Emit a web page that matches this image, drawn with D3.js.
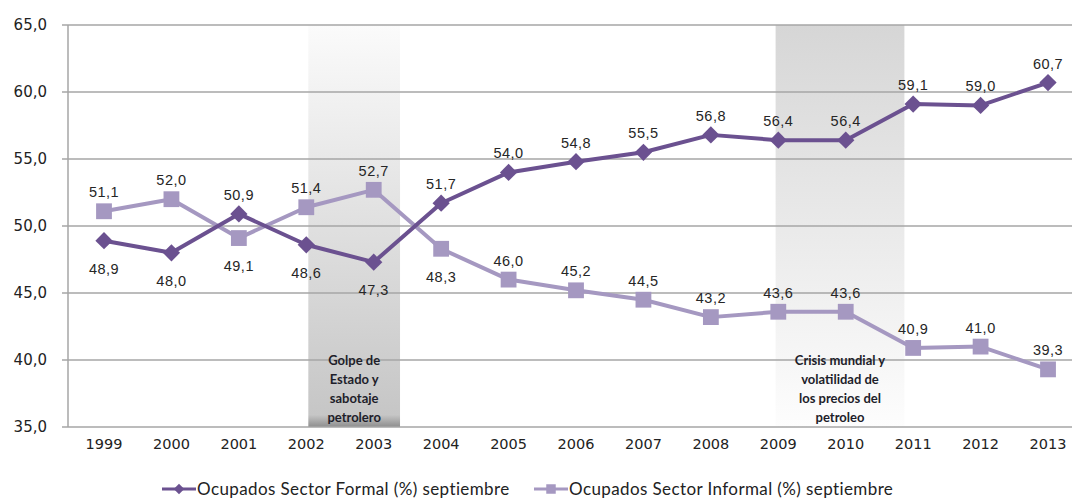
<!DOCTYPE html>
<html>
<head>
<meta charset="utf-8">
<script src="https://cdn.jsdelivr.net/npm/d3@7"></script>
<style>
  body { margin: 0; background: #fff; }
  svg { display: block; }
</style>
</head>
<body>
<div id="chart"></div>
<script>
var years = ['1999','2000','2001','2002','2003','2004','2005','2006','2007','2008','2009','2010','2011','2012','2013'];
var formal = [48.9, 48.0, 50.9, 48.6, 47.3, 51.7, 54.0, 54.8, 55.5, 56.8, 56.4, 56.4, 59.1, 59.0, 60.7];
var informal = [51.1, 52.0, 49.1, 51.4, 52.7, 48.3, 46.0, 45.2, 44.5, 43.2, 43.6, 43.6, 40.9, 41.0, 39.3];
// where each label sits: a = above, b = below
var formalPos = ['b','b','a','b','b','a','a','a','a','a','a','a','a','a','a'];
var informalPos = ['a','a','b','a','a','b','a','a','a','a','a','a','a','a','a'];
var yTicks = [35, 40, 45, 50, 55, 60, 65];
var seriesNames = ['Ocupados Sector Formal (%) septiembre', 'Ocupados Sector Informal (%) septiembre'];
// shaded periods, in year units
var periods = [
  {from: 2002.03, to: 2003.39, lines: ['Golpe de', 'Estado y', 'sabotaje', 'petrolero'], grad: 'g1'},
  {from: 2008.96, to: 2010.87, lines: ['Crisis mundial y', 'volatilidad de', 'los precios del', 'petroleo'], grad: 'g2'}
];

var width = 1072, height = 501;
var colFormal = '#6b5190', colInformal = '#a598c1';

var svg = d3.select('#chart').append('svg')
    .attr('width', width)
    .attr('height', height);

var defs = svg.append('defs');
var g1 = defs.append('linearGradient').attr('id', 'g1').attr('x1', 0).attr('y1', 0).attr('x2', 0).attr('y2', 1);
g1.append('stop').attr('offset', '0%').attr('stop-color', '#fbfbfb');
g1.append('stop').attr('offset', '97%').attr('stop-color', '#c6c6c6');
g1.append('stop').attr('offset', '100%').attr('stop-color', '#8e8e8e');
var g2 = defs.append('linearGradient').attr('id', 'g2').attr('x1', 0).attr('y1', 0).attr('x2', 0).attr('y2', 1);
g2.append('stop').attr('offset', '0%').attr('stop-color', '#d6d6d6');
g2.append('stop').attr('offset', '100%').attr('stop-color', '#fdfdfd');

var step = 67.43;
var x = d3.scalePoint().domain(years).range([104, 104 + step * 14]);
var xYear = d3.scaleLinear().domain([1999, 2013]).range([104, 104 + step * 14]);
var y = d3.scaleLinear().domain([35, 65]).range([427, 25]);

// shaded periods
var shades = svg.append('g');
shades.selectAll('rect')
    .data(periods)
    .enter()
    .append('rect')
    .attr('x', function(d) { return xYear(d.from); })
    .attr('width', function(d) { return xYear(d.to) - xYear(d.from); })
    .attr('y', y(65))
    .attr('height', y(35) - y(65))
    .attr('fill', function(d) { return 'url(#' + d.grad + ')'; });

// grid
svg.append('g')
    .selectAll('line')
    .data(yTicks)
    .enter()
    .append('line')
    .attr('x1', 62).attr('x2', width)
    .attr('y1', function(d) { return y(d); })
    .attr('y2', function(d) { return y(d); })
    .attr('stroke', '#a6a6a6')
    .attr('stroke-width', 1.5);
svg.append('line')
    .attr('x1', 68).attr('x2', 68)
    .attr('y1', y(65)).attr('y2', y(35))
    .attr('stroke', '#a6a6a6')
    .attr('stroke-width', 1.5);

// period notes
periods.forEach(function(p) {
    var cx = (xYear(p.from) + xYear(p.to)) / 2;
    svg.append('text')
        .attr('font-family', 'Lato, sans-serif')
        .attr('font-weight', 'bold')
        .attr('font-size', 13)
        .attr('fill', '#1e1e2a')
        .attr('text-anchor', 'middle')
        .selectAll('tspan')
        .data(p.lines)
        .enter()
        .append('tspan')
        .attr('x', cx)
        .attr('y', function(d, i) { return 365 + i * 19; })
        .text(function(d) { return d; });
});

// axis labels
svg.append('g')
    .selectAll('text')
    .data(yTicks)
    .enter()
    .append('text')
    .attr('x', 47)
    .attr('y', function(d) { return y(d) + 5; })
    .attr('text-anchor', 'end')
    .attr('font-family', 'DejaVu Sans, sans-serif')
    .attr('font-size', 15)
    .attr('fill', '#222')
    .text(function(d) { return d3.format('.1f')(d).replace('.', ','); });

svg.append('g')
    .selectAll('text')
    .data(years)
    .enter()
    .append('text')
    .attr('x', function(d) { return x(d); })
    .attr('y', 449)
    .attr('text-anchor', 'middle')
    .attr('font-family', 'DejaVu Sans, sans-serif')
    .attr('font-size', 14.5)
    .attr('fill', '#222')
    .text(function(d) { return d; });

var line = d3.line()
    .x(function(d, i) { return x(years[i]); })
    .y(function(d) { return y(d); });

var diamond = d3.symbol().type(d3.symbolDiamond2).size(190);
var square = d3.symbol().type(d3.symbolSquare).size(250);

function drawSeries(vals, col, sym) {
    svg.append('path')
        .datum(vals)
        .attr('d', line)
        .attr('fill', 'none')
        .attr('stroke', col)
        .attr('stroke-width', 4)
        .attr('stroke-linejoin', 'round');
    svg.append('g')
        .selectAll('path')
        .data(vals)
        .enter()
        .append('path')
        .attr('d', sym)
        .attr('transform', function(d, i) { return 'translate(' + x(years[i]) + ',' + y(d) + ')'; })
        .attr('fill', col);
}
drawSeries(informal, colInformal, square);
drawSeries(formal, colFormal, diamond);

function drawLabels(vals, pos) {
    svg.append('g')
        .selectAll('text')
        .data(vals)
        .enter()
        .append('text')
        .attr('x', function(d, i) { return x(years[i]); })
        .attr('y', function(d, i) { return y(d) + (pos[i] == 'a' ? -14 : 33); })
        .attr('text-anchor', 'middle')
        .attr('font-family', 'Liberation Sans, Arial, sans-serif')
        .attr('font-size', 14.5)
        .attr('letter-spacing', 0.5)
        .attr('fill', '#262626')
        .text(function(d) { return d3.format('.1f')(d).replace('.', ','); });
}
drawLabels(informal, informalPos);
drawLabels(formal, formalPos);

// legend
var legend = svg.append('g');
var legendX = [162, 534];
[0, 1].forEach(function(k) {
    var lx = legendX[k], ly = 489;
    var col = k == 0 ? colFormal : colInformal;
    legend.append('line')
        .attr('x1', lx).attr('x2', lx + 34)
        .attr('y1', ly).attr('y2', ly)
        .attr('stroke', col).attr('stroke-width', 3);
    legend.append('path')
        .attr('d', (k == 0 ? d3.symbol().type(d3.symbolDiamond2).size(70) : d3.symbol().type(d3.symbolSquare).size(90))())
        .attr('transform', 'translate(' + (lx + 17) + ',' + ly + ')')
        .attr('fill', col);
    legend.append('text')
        .attr('x', lx + 35)
        .attr('y', ly + 6)
        .attr('font-family', 'Lato, sans-serif')
        .attr('font-size', 17)
        .attr('letter-spacing', 0.4)
        .attr('fill', '#222')
        .text(seriesNames[k]);
});
</script>
</body>
</html>
